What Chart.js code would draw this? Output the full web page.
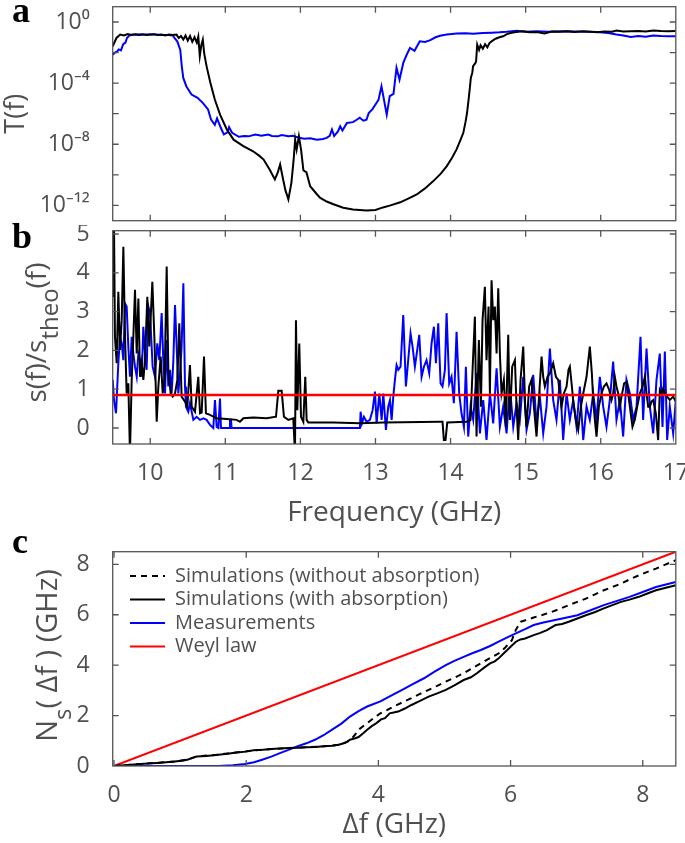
<!DOCTYPE html>
<html><head><meta charset="utf-8">
<script src="https://cdn.jsdelivr.net/npm/chart.js@4/dist/chart.umd.min.js"></script>
<style>
html,body{margin:0;padding:0;background:#fff;width:685px;height:843px;overflow:hidden;position:relative}
canvas{position:absolute;left:0}
.lab{position:absolute;font:bold 36px 'Liberation Serif','Times New Roman',serif;line-height:36px;color:#000}
</style></head><body>
<canvas id="ca" width="720" height="225" style="top:0"></canvas>
<canvas id="cb" width="720" height="310" style="top:225px"></canvas>
<canvas id="cc" width="720" height="308" style="top:535px"></canvas>
<div class="lab" style="left:12px;top:-8px">a</div>
<div class="lab" style="left:12px;top:218px">b</div>
<div class="lab" style="left:12px;top:523px">c</div>
<script>
// ---------- Panel a : transmission T(f) ----------
const aFreqBlack = [9.50,9.55,9.60,9.65,9.70,9.75,9.80,9.85,9.90,9.95,
10.00,10.05,10.10,10.15,10.20,10.25,10.30,10.35,10.38,10.41,
10.44,10.47,10.50,10.53,10.56,10.59,10.62,10.64,10.66,10.68,
10.70,10.72,10.75,10.80,10.86,10.93,11.02,11.11,11.24,11.37,
11.45,11.51,11.59,11.66,11.70,11.73,11.77,11.80,11.84,11.88,
11.91,11.93,11.95,11.98,12.01,12.04,12.06,12.08,12.13,12.20,
12.26,12.35,12.44,12.57,12.70,12.88,13.00,13.10,13.20,13.33,
13.45,13.55,13.66,13.77,13.87,13.95,14.02,14.08,14.13,14.17,
14.20,14.22,14.25,14.27,14.29,14.30,14.33,14.34,14.355,14.38,
14.40,14.43,14.46,14.49,14.52,14.56,14.60,14.65,14.70,14.75,
14.80,14.85,14.90,14.97,15.05,15.15,15.25,15.35,15.45,15.55,
15.65,15.77,15.87,15.95,16.05,16.15,16.21,16.30,16.40,16.50,
16.60,16.70,16.80,16.90,17.00];
const aTBlack = [2.6e-2,9e-2,1.5e-1,1.3e-1,1.6e-1,1.4e-1,1.6e-1,1.5e-1,1.6e-1,1.4e-1,
1.5e-1,1.6e-1,1.4e-1,1.5e-1,1.3e-1,1.5e-1,1.4e-1,1.5e-1,9e-2,1.2e-1,
7e-2,1.3e-1,6e-2,1.2e-1,5e-2,1.0e-1,4.5e-2,1.1e-1,6e-3,3e-2,
7e-2,8e-3,1.3e-3,1.1e-4,8.5e-6,8.7e-7,9.3e-8,2.0e-8,7.6e-9,3.5e-9,
1.8e-9,1.0e-9,2.2e-10,5e-11,1.5e-10,4.8e-10,5e-11,1e-11,2.5e-12,3e-11,
1e-9,2.0e-8,4.6e-9,3.4e-8,4e-9,2e-10,1.7e-10,1.5e-10,1.8e-11,7e-12,
3.2e-12,1.8e-12,1.2e-12,7e-13,5.5e-13,4.7e-13,5e-13,7.4e-13,1.0e-12,1.6e-12,
3e-12,5.2e-12,1.3e-11,3.9e-11,1.2e-10,3.7e-10,1.3e-9,4.6e-9,1.8e-8,5.6e-8,
3e-7,1.15e-6,2.3e-5,2.2e-4,5e-4,1.3e-3,2.0e-3,2.7e-3,3.3e-2,1.5e-2,
3e-2,1.8e-2,3.5e-2,2.2e-2,4.3e-2,6e-2,8e-2,1.0e-1,1.15e-1,1.6e-1,
1.9e-1,2.1e-1,2.3e-1,2.45e-1,2.1e-1,2.2e-1,1.8e-1,2.4e-1,2.3e-1,2.45e-1,
2.2e-1,2.45e-1,2.3e-1,2.1e-1,2.4e-1,2.3e-1,2.8e-1,2.4e-1,2.5e-1,2.6e-1,
2.4e-1,2.8e-1,2.6e-1,2.5e-1,2.6e-1];
const aFreqBlue = [9.50,9.53,9.56,9.58,9.61,9.64,9.67,9.69,9.72,9.76,
9.85,9.95,10.05,10.15,10.25,10.30,10.33,10.36,10.40,10.42,
10.44,10.48,10.55,10.63,10.70,10.77,10.81,10.86,10.89,10.94,
10.98,11.03,11.05,11.09,11.18,11.25,11.31,11.40,11.48,11.57,
11.62,11.70,11.75,11.84,11.90,11.97,12.05,12.13,12.22,12.30,
12.35,12.39,12.42,12.45,12.50,12.53,12.56,12.62,12.70,12.75,
12.79,12.84,12.88,12.91,12.96,13.00,13.04,13.08,13.15,13.19,
13.24,13.28,13.32,13.37,13.42,13.46,13.52,13.59,13.66,13.73,
13.80,13.86,13.95,14.08,14.20,14.30,14.43,14.55,14.65,14.75,
14.88,15.00,15.15,15.30,15.50,15.65,15.80,15.95,16.10,16.21,
16.30,16.40,16.50,16.60,16.70,16.80,16.90,17.00];
const aTBlue = [7.2e-3,1.0e-2,1.2e-2,1.6e-2,1.4e-2,3.5e-2,4.5e-2,9e-2,1.3e-1,1.5e-1,
1.4e-1,1.5e-1,1.5e-1,1.4e-1,1.4e-1,1.3e-1,8e-2,5.4e-2,1.5e-2,1.3e-3,
2.2e-4,6.3e-5,1.8e-5,1.1e-5,5.1e-6,1.9e-6,4.2e-7,1.9e-7,5e-7,1.2e-7,
4.4e-8,6e-8,1.3e-7,5.6e-8,3.1e-8,3.5e-8,3.3e-8,4.4e-8,3.6e-8,4.4e-8,
3.5e-8,3.3e-8,4.0e-8,3.3e-8,3.6e-8,2.8e-8,2.3e-8,2.5e-8,2.0e-8,2.2e-8,
2.6e-8,3.5e-8,9.3e-8,3.5e-8,7e-8,1.5e-7,8e-8,2.5e-7,2.8e-7,4e-7,
5.4e-7,3.5e-7,4e-7,1.1e-6,2e-6,4e-6,8e-6,6.3e-5,8.7e-7,1.4e-5,
2.0e-5,1.0e-3,1.7e-4,2.1e-3,8e-3,2.0e-2,1.3e-2,5.4e-2,5e-2,6.5e-2,
1.0e-1,1.26e-1,1.5e-1,1.75e-1,1.8e-1,1.7e-1,1.9e-1,2.0e-1,2.1e-1,2.3e-1,
2.7e-1,2.3e-1,2.5e-1,2.3e-1,2.5e-1,2.4e-1,2.3e-1,2.2e-1,1.9e-1,1.5e-1,
1.3e-1,1.05e-1,1.2e-1,1.1e-1,1.3e-1,1.2e-1,1.15e-1,1.15e-1];
const aYTicks = [1e-12,1e-10,1e-8,1e-6,1e-4,1e-2,1e0];
const aYTickLabels = ['10\u207B\u00B9\u00B2','','10\u207B\u2078','','10\u207B\u2074','','10\u2070'];
const freqTicks = [10,11,12,13,14,15,16,17];

// ---------- Panel b : s(f)/s_theo(f) ----------
const bFreqBlack = [9.50,9.517,9.53,9.553,9.575,9.597,9.62,9.642,9.664,9.686,
9.708,9.73,9.753,9.775,9.797,9.82,9.842,9.864,9.886,9.908,
9.93,9.961,9.988,10.028,10.055,10.086,10.108,10.139,10.166,10.192,
10.219,10.241,10.272,10.299,10.33,10.361,10.387,10.418,10.463,10.494,
10.529,10.552,10.596,10.64,10.663,10.685,10.716,10.742,10.796,10.884,
11.018,11.151,11.195,11.24,11.373,11.55,11.675,11.706,11.75,11.781,
11.839,11.905,11.928,11.941,11.959,11.985,12.008,12.039,12.065,12.083,
12.105,12.438,12.793,13.104,13.858,13.893,13.911,13.933,13.956,14.213,
14.266,14.293,14.324,14.346,14.377,14.404,14.426,14.457,14.479,14.506,
14.524,14.546,14.568,14.59,14.613,14.635,14.657,14.679,14.71,14.737,
14.768,14.79,14.821,14.857,14.879,14.901,14.932,14.968,14.994,15.012,
15.047,15.079,15.11,15.145,15.181,15.212,15.234,15.256,15.292,15.323,
15.345,15.367,15.403,15.434,15.478,15.509,15.545,15.571,15.589,15.616,
15.633,15.669,15.7,15.736,15.767,15.811,15.855,15.882,15.9,15.922,
15.944,15.975,16.011,16.042,16.077,16.113,16.144,16.166,16.188,16.21,
16.233,16.255,16.277,16.312,16.344,16.366,16.388,16.423,16.454,16.486,
16.521,16.557,16.588,16.61,16.632,16.654,16.676,16.699,16.734,16.765,
16.787,16.81,16.832,16.854,16.885,16.92,16.965,17.0];
const bRatioBlack = [3.38,5.3,2.35,1.67,3.51,2.01,2.78,4.67,2.35,0.89,
1.15,-0.65,1.24,2.35,3.56,1.92,3.34,1.32,1.67,1.24,
1.75,3.38,2.1,3.77,2.35,0.16,1.07,1.84,0.89,1.32,
4.16,1.5,0.89,0.81,0.89,1.24,2.7,0.81,0.68,0.55,
1.62,0.55,0.42,1.32,0.38,0.4,1.84,0.38,0.34,0.25,
0.23,0.21,0.16,0.25,0.27,0.25,0.29,0.96,0.96,0.29,
0.21,0.25,-0.65,2.78,0.46,2.18,0.29,0.16,1.32,0.21,
0.14,0.14,0.12,0.14,0.16,0.16,-0.31,-0.31,0.14,0.16,
0.21,1.5,2.87,-0.22,2.27,0.55,2.78,3.64,1.75,3.13,
0.89,3.81,2.78,3.13,1.92,3.6,1.92,0.89,1.24,0.03,
2.4,0.21,1.58,1.75,0.55,-0.31,1.24,2.1,0.55,0.03,
1.07,1.24,0.55,-0.22,0.89,1.84,1.32,1.07,1.32,1.41,
1.54,1.67,1.32,1.24,0.55,0.89,1.07,1.5,1.58,1.07,
0.72,0.21,-0.05,0.55,0.89,1.32,2.1,1.41,0.72,0.21,
-0.22,0.55,0.89,1.07,1.15,0.98,0.72,0.89,1.32,1.07,
0.89,0.55,0.81,1.15,1.19,0.89,0.55,0.03,0.21,0.55,
0.89,1.07,1.32,0.89,0.55,0.55,0.68,0.72,0.38,-0.31,
0.98,0.89,1.02,0.89,0.81,0.72,0.81,0.68];
const bFreqBlue = [9.50,9.517,9.544,9.575,9.597,9.62,9.642,9.664,9.686,9.708,
9.73,9.753,9.775,9.797,9.82,9.842,9.864,9.886,9.908,9.93,
9.952,9.975,9.997,10.032,10.063,10.094,10.121,10.152,10.174,10.197,
10.219,10.241,10.263,10.285,10.308,10.33,10.352,10.374,10.396,10.418,
10.441,10.463,10.476,10.507,10.529,10.574,10.618,10.663,10.707,10.751,
10.796,10.84,10.862,10.885,10.907,10.929,10.942,11.053,11.062,11.075,
11.084,12.793,12.802,12.82,12.846,12.882,12.926,12.962,12.993,13.015,
13.051,13.082,13.104,13.139,13.17,13.193,13.215,13.237,13.259,13.281,
13.304,13.334,13.37,13.405,13.436,13.467,13.494,13.525,13.556,13.583,
13.614,13.645,13.68,13.716,13.747,13.778,13.805,13.836,13.867,13.893,
13.925,13.947,13.982,14.013,14.044,14.08,14.115,14.146,14.178,14.204,
14.235,14.266,14.302,14.346,14.391,14.435,14.479,14.524,14.568,14.613,
14.657,14.701,14.746,14.79,14.835,14.879,14.923,14.968,15.012,15.056,
15.101,15.145,15.189,15.234,15.278,15.323,15.367,15.411,15.456,15.5,
15.545,15.589,15.633,15.678,15.722,15.767,15.811,15.855,15.9,15.944,
15.988,16.033,16.077,16.121,16.166,16.21,16.255,16.299,16.343,16.388,
16.432,16.477,16.53,16.565,16.61,16.654,16.699,16.743,16.787,16.823,
16.854,16.885,16.92,16.965,17.0];
const bRatioBlue = [1.24,0.72,0.38,1.67,2.35,2.18,1.75,3.21,3.13,2.1,
1.32,2.35,1.92,1.58,1.32,1.92,1.75,1.32,2.61,1.92,
1.5,3.13,2.96,1.58,1.32,2.18,1.75,2.96,1.75,0.89,
2.27,1.07,1.5,0.89,1.75,3.17,2.1,0.89,1.41,2.1,
3.73,1.07,0.55,0.42,0.64,0.21,0.29,0.21,0.25,0.21,
0.08,0,0.72,0.03,0,0.76,0,0,0.21,0.21,
0,0,0.42,0.12,0.29,0.16,0.21,0.46,0.94,0.12,
0.89,0.21,0.89,-0.05,0.55,0.72,0.21,0.81,1.24,1.62,
1.5,1.58,2.91,1.07,1.75,2.44,2.1,1.58,2.01,2.4,
1.32,1.58,1.75,1.41,2.18,2.61,1.67,2.7,1.15,1.07,
1.5,2.96,1.15,1.32,0.64,2.48,0.89,0.38,0.03,1.58,
-0.22,0.55,0.21,1.41,-0.14,0.72,-0.31,0.89,0.12,1.54,
0.03,0.55,-0.14,1.07,0.03,0.64,0.21,1.32,-0.05,0.38,
1.37,0.12,0.81,-0.14,0.55,2.05,0.72,0.21,1.24,-0.31,
0.89,0.21,0.72,0.03,1.07,-0.31,0.55,0.21,0.89,0.21,
1.32,0.55,0.03,0.72,1.71,0.21,0.72,-0.22,1.24,0.89,
0.21,0.55,2.35,0.21,2.05,0.55,-0.14,1.24,1.92,0.03,
1.97,-0.31,0.55,-0.14,0.72];
const bWeylFreq = [9.5, 17];
const bWeylRatio = [0.85, 0.85];
const bYTicks = [0,1,2,3,4,5];

// ---------- Panel c : N_s(Δf) ----------
const cDfSimNoAbs = [0,0.46,0.92,1.12,1.25,1.58,1.85,2.11,2.38,2.64,
2.91,3.17,3.40,3.57,3.65,3.70,3.83,3.93,4.03,4.13,
4.23,4.36,4.50,4.63,4.76,4.89,5.02,5.15,5.29,5.42,
5.55,5.69,5.82,5.92,6.02,6.08,6.15,6.25,6.35,6.48,
6.62,6.75,6.88,7.01,7.14,7.27,7.41,7.54,7.67,7.80,
7.94,8.07,8.20,8.35,8.5];
const cNsSimNoAbs = [0,0.09,0.18,0.26,0.38,0.45,0.54,0.62,0.67,0.71,
0.74,0.78,0.84,1.0,1.25,1.44,1.70,1.90,2.09,2.22,
2.36,2.52,2.69,2.86,3.02,3.18,3.35,3.50,3.68,3.88,
4.07,4.28,4.47,4.70,4.99,5.40,5.72,5.80,5.89,5.99,
6.11,6.24,6.38,6.51,6.64,6.80,6.97,7.10,7.23,7.40,
7.56,7.70,7.83,8.00,8.16];
const cDfSimAbs = [0,0.2,0.46,0.7,0.92,1.05,1.12,1.2,1.25,1.40,
1.58,1.72,1.85,2.0,2.11,2.25,2.38,2.5,2.64,2.78,
2.91,3.05,3.17,3.30,3.40,3.50,3.57,3.65,3.70,3.77,
3.83,3.90,3.97,4.04,4.10,4.17,4.23,4.30,4.40,4.50,
4.63,4.76,4.89,5.02,5.15,5.29,5.40,5.49,5.60,5.69,
5.76,5.82,5.89,5.95,6.02,6.08,6.15,6.22,6.35,6.45,
6.55,6.62,6.68,6.78,6.88,7.01,7.14,7.27,7.41,7.54,
7.67,7.80,7.94,8.07,8.20,8.35,8.5];
const cNsSimAbs = [0,0.04,0.09,0.13,0.18,0.22,0.26,0.33,0.38,0.40,
0.45,0.49,0.54,0.57,0.62,0.64,0.67,0.69,0.71,0.72,
0.74,0.75,0.78,0.80,0.84,0.92,1.04,1.10,1.15,1.30,
1.44,1.58,1.70,1.85,1.90,2.09,2.12,2.16,2.28,2.42,
2.58,2.75,2.88,3.02,3.20,3.41,3.52,3.68,3.90,4.07,
4.15,4.27,4.45,4.60,4.78,4.93,5.02,5.06,5.19,5.28,
5.39,5.50,5.59,5.63,5.72,5.85,5.98,6.10,6.25,6.38,
6.51,6.60,6.71,6.84,6.97,7.07,7.17];
const cDfMeas = [0,0.5,1.0,1.58,1.80,1.98,2.12,2.24,2.38,2.51,
2.64,2.77,2.91,3.04,3.17,3.30,3.44,3.57,3.70,3.83,
4.03,4.20,4.36,4.52,4.69,4.85,5.02,5.15,5.29,5.42,
5.55,5.69,5.82,5.95,6.08,6.22,6.35,6.48,6.62,6.80,
7.01,7.20,7.41,7.60,7.80,8.00,8.20,8.35,8.5];
const cNsMeas = [0,0,0,0,0.03,0.08,0.15,0.25,0.37,0.51,
0.64,0.78,0.90,1.04,1.22,1.44,1.68,1.96,2.18,2.36,
2.56,2.80,3.02,3.25,3.48,3.74,4.0,4.17,4.33,4.47,
4.6,4.76,4.93,5.10,5.26,5.43,5.59,5.68,5.76,5.86,
5.98,6.17,6.38,6.54,6.71,6.90,7.1,7.2,7.3];
const cDfWeyl = [0, 8.5];
const cNsWeyl = [0, 8.5];
const cTicks = [0,2,4,6,8];
const cLegend = ['Simulations (without absorption)','Simulations (with absorption)','Measurements','Weyl law'];

// ---------- rendering ----------
const FONT = "'Open Sans', 'Noto Sans', sans-serif";
const TXT = '#505050';
const AX = '#555555';
Chart.defaults.font.family = FONT;
Chart.defaults.color = TXT;
Chart.defaults.animation = false;

const pts = (xs, ys) => xs.map((x, i) => ({x: x, y: ys[i]}));
const fix = (w, h) => (s) => {
  if (w !== null) s.width = w;
  if (h !== null) s.height = h;
  s.paddingTop = 0; s.paddingBottom = 0; s.paddingLeft = 0; s.paddingRight = 0;
};
const setTicks = (vals) => (s) => { s.ticks = vals.map(v => ({value: v})); };

const frameTicks = {
  id: 'frameTicks',
  afterDatasetsDraw(chart) {
    const {ctx, chartArea: a} = chart;
    const xs = chart.scales.x, ys = chart.scales.y, L = 6;
    ctx.save();
    ctx.strokeStyle = AX; ctx.lineWidth = 1.3;
    ctx.beginPath();
    xs.ticks.forEach(t => {
      const p = xs.getPixelForValue(t.value);
      if (p <= a.left + 1 || p >= a.right - 1) return;
      ctx.moveTo(p, a.bottom); ctx.lineTo(p, a.bottom - L);
      ctx.moveTo(p, a.top); ctx.lineTo(p, a.top + L);
    });
    ys.ticks.forEach(t => {
      const p = ys.getPixelForValue(t.value);
      if (p <= a.top + 1 || p >= a.bottom - 1) return;
      ctx.moveTo(a.left, p); ctx.lineTo(a.left + L, p);
      ctx.moveTo(a.right, p); ctx.lineTo(a.right - L, p);
    });
    ctx.stroke();
    ctx.strokeRect(a.left, a.top, a.right - a.left, a.bottom - a.top);
    ctx.restore();
  }
};

function richTitle(cfg) {
  return {
    id: 'richTitle',
    afterDraw(chart) {
      const ctx = chart.ctx;
      ctx.save();
      ctx.translate(cfg.x, cfg.y);
      ctx.rotate(-Math.PI / 2);
      ctx.fillStyle = TXT;
      ctx.textBaseline = 'middle';
      ctx.textAlign = 'left';
      let total = 0;
      const w = cfg.parts.map(p => {
        ctx.font = (p.sub ? cfg.subSize : cfg.size) + 'px ' + FONT;
        const m = ctx.measureText(p.text).width; total += m; return m;
      });
      let cx = -total / 2;
      cfg.parts.forEach((p, i) => {
        ctx.font = (p.sub ? cfg.subSize : cfg.size) + 'px ' + FONT;
        ctx.fillText(p.text, cx, p.sub ? cfg.shift : 0);
        cx += w[i];
      });
      ctx.restore();
    }
  };
}

const legendShift = {
  id: 'legendShift',
  afterLayout(chart) {
    const L = chart.legend, a = chart.chartArea;
    if (!L) return;
    L.left = a.left + 13.8; L.top = a.top + 10.8;
    L.right = a.right; L.bottom = a.bottom;
  }
};

// legend line samples (drawn as point-style images so dashes show)
function sample(color, dash) {
  const c = document.createElement('canvas');
  c.width = 35; c.height = 4;
  const g = c.getContext('2d');
  g.strokeStyle = color; g.lineWidth = 2.2; g.setLineDash(dash || []);
  g.beginPath(); g.moveTo(0, 2); g.lineTo(35, 2); g.stroke();
  return c;
}

const line = (label, data, color, width, dash) => ({
  label: label, data: data, borderColor: color, backgroundColor: color,
  borderWidth: width, borderDash: dash || [], pointRadius: 0, tension: 0, fill: false,
  pointStyle: sample(color, dash)
});

// Panel a
new Chart(document.getElementById('ca'), {
  type: 'line',
  data: { datasets: [
    line('Simulations', pts(aFreqBlack, aTBlack), '#000000', 2),
    line('Measurements', pts(aFreqBlue, aTBlue), '#0000ff', 2)
  ]},
  options: {
    responsive: false, devicePixelRatio: 1,
    layout: { padding: {left: 0, top: 6.7, right: 44.2, bottom: 0}, autoPadding: false },
    plugins: { legend: {display: false}, tooltip: {enabled: false} },
    scales: {
      x: { type: 'linear', min: 9.5, max: 17, grid: {display: false}, border: {display: false},
           ticks: {display: false}, afterBuildTicks: setTicks(freqTicks), afterFit: fix(null, 4.3) },
      y: { type: 'logarithmic', min: 1e-13, max: 10, grid: {display: false}, border: {display: false},
           afterBuildTicks: setTicks(aYTicks),
           ticks: { padding: 15, font: {size: 23}, color: TXT, autoSkip: false,
                    callback: (v, i) => aYTickLabels[i] },
           title: { display: true, text: 'T(f)', color: TXT, font: {size: 27}, padding: {top: 0, bottom: 0} },
           afterFit: fix(112.7, null) }
    }
  },
  plugins: [frameTicks]
});

// Panel b
new Chart(document.getElementById('cb'), {
  type: 'line',
  data: { datasets: [
    line('Weyl', pts(bWeylFreq, bWeylRatio), '#ff0000', 2.5),
    line('Simulations', pts(bFreqBlack, bRatioBlack), '#000000', 2),
    line('Measurements', pts(bFreqBlue, bRatioBlue), '#0000ff', 2)
  ]},
  options: {
    responsive: false, devicePixelRatio: 1,
    layout: { padding: {left: 0, top: 5.7, right: 44.2, bottom: 0}, autoPadding: false },
    plugins: { legend: {display: false}, tooltip: {enabled: false} },
    scales: {
      x: { type: 'linear', min: 9.5, max: 17, grid: {display: false}, border: {display: false},
           afterBuildTicks: setTicks(freqTicks),
           ticks: { padding: 8, font: {size: 23}, color: TXT, autoSkip: false, maxRotation: 0 },
           title: { display: true, text: 'Frequency (GHz)', color: TXT, font: {size: 28}, padding: {top: 0, bottom: 5} },
           afterFit: fix(null, 91) },
      y: { type: 'linear', min: -0.412, max: 5.085, grid: {display: false}, border: {display: false},
           afterBuildTicks: setTicks(bYTicks),
           ticks: { padding: 15, font: {size: 23}, color: TXT, autoSkip: false },
           afterFit: fix(112.7, null) }
    }
  },
  plugins: [frameTicks, richTitle({x: 38, y: 107.5, size: 28, subSize: 24, shift: 13,
    parts: [{text: 's(f)/s'}, {text: 'theo', sub: true}, {text: '(f)'}]})]
});

// Panel c
new Chart(document.getElementById('cc'), {
  type: 'line',
  data: { datasets: [
    line(cLegend[0], pts(cDfSimNoAbs, cNsSimNoAbs), '#000000', 2, [6, 5]),
    line(cLegend[1], pts(cDfSimAbs, cNsSimAbs), '#000000', 2),
    line(cLegend[2], pts(cDfMeas, cNsMeas), '#0000ff', 2),
    line(cLegend[3], pts(cDfWeyl, cNsWeyl), '#ff0000', 2)
  ]},
  options: {
    responsive: false, devicePixelRatio: 1,
    layout: { padding: {left: 0, top: 16.7, right: 44.2, bottom: 0}, autoPadding: false },
    plugins: {
      tooltip: {enabled: false},
      legend: { display: true, position: 'chartArea', align: 'start',
        labels: { usePointStyle: true, pointStyleWidth: 35, padding: 3.5,
                  color: TXT, font: {size: 20} } }
    },
    scales: {
      x: { type: 'linear', min: -0.02, max: 8.5, grid: {display: false}, border: {display: false},
           afterBuildTicks: setTicks(cTicks),
           ticks: { padding: 8, font: {size: 23}, color: TXT, autoSkip: false, maxRotation: 0 },
           title: { display: true, text: '\u0394f (GHz)', color: TXT, font: {size: 28}, padding: {top: 0, bottom: 1} },
           afterFit: fix(null, 77) },
      y: { type: 'linear', min: 0, max: 8.5, grid: {display: false}, border: {display: false},
           afterBuildTicks: setTicks(cTicks),
           ticks: { padding: 15, font: {size: 23}, color: TXT, autoSkip: false },
           afterFit: fix(112.7, null) }
    }
  },
  plugins: [frameTicks, legendShift, richTitle({x: 49, y: 120.5, size: 29, subSize: 24, shift: 15,
    parts: [{text: 'N'}, {text: 's', sub: true}, {text: '( \u0394f ) (GHz)'}]})]
});
</script>
</body></html>
